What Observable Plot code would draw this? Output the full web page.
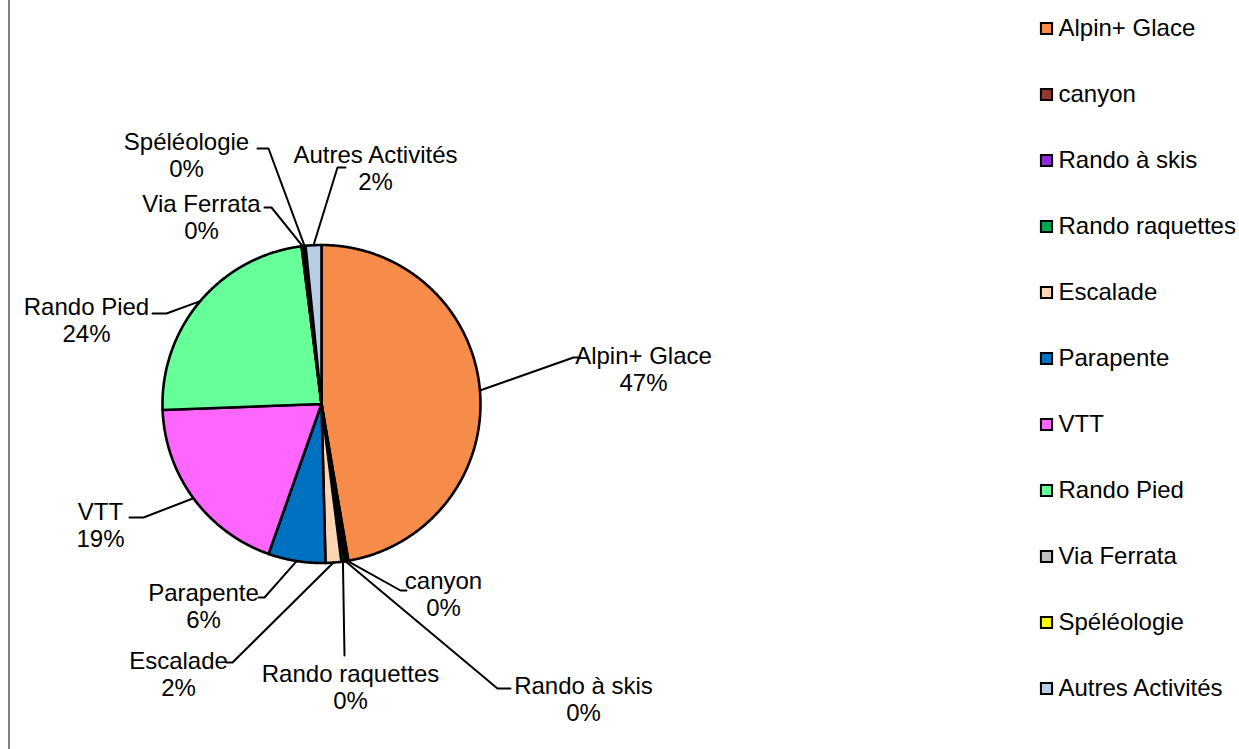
<!DOCTYPE html>
<html>
<head>
<meta charset="utf-8">
<script src="https://cdn.jsdelivr.net/npm/d3@7"></script>
<script src="https://cdn.jsdelivr.net/npm/@observablehq/plot@0.6"></script>
<style>
  html, body { margin: 0; padding: 0; background: #fff; }
  #wrap { position: relative; width: 1239px; height: 749px; overflow: hidden; }
  #legend { position: absolute; left: 1030px; top: 0; }
  #main { position: absolute; left: 0; top: 0; }
  svg { font-family: "Liberation Sans", Arial, sans-serif; }
</style>
</head>
<body>
<div id="wrap"><div id="main"></div><div id="legend"></div></div>
<script>
// ---- data ----
const categories = ["Alpin+ Glace", "canyon", "Rando à skis", "Rando raquettes", "Escalade", "Parapente", "VTT", "Rando Pied", "Via Ferrata", "Spéléologie", "Autres Activités"];
const shares = [47.3, 0.2, 0.2, 0.3, 1.6, 5.8, 19.0, 23.6, 0.2, 0.2, 1.6];
const percentLabels = ["47%", "0%", "0%", "0%", "2%", "6%", "19%", "24%", "0%", "0%", "2%"];
const colors = ["#F68B4A", "#953735", "#8E2BD8", "#00A651", "#FCD5B4", "#0070C0", "#FF66FF", "#66FF99", "#BFBFBF", "#FFFF00", "#B9CDE5"];

// ---- layout (pixels) ----
const W = 1239, H = 749;
const cx = 321, cy = 403.5, R = 159;
const labelCenter = [[643, 368], [443, 593.5], [583, 698.5], [350, 686], [178, 673.5], [203, 605.5], [100, 524], [86, 319.5], [201, 216.5], [186, 154], [375, 167.5]];
const leaderElbow = [[573, 357], [400, 590], [497, 688], [344, 655], [232, 662], [264, 597], [143, 517], [166, 313], [271, 207], [268, 148], [337, 167]];
const leaderEnd = [[580, 357], [406, 590], [510, 688], null, [226, 662], [258, 597], [129, 517], [152, 313], [264, 207], [257, 148], [345, 167]];

const arcs = d3.pie().sort(null).value(d => d)(shares);
const pt = (a, r) => [cx + r * Math.sin(a), cy - r * Math.cos(a)];

// slice polygons
const slicePts = [];
arcs.forEach((a, i) => {
  const name = categories[i];
  slicePts.push({name, x: cx, y: cy});
  const n = Math.max(2, Math.ceil((a.endAngle - a.startAngle) / 0.005));
  for (let k = 0; k <= n; k++) {
    const t = a.startAngle + (a.endAngle - a.startAngle) * k / n;
    const [x, y] = pt(t, R);
    slicePts.push({name, x, y});
  }
  slicePts.push({name, x: cx, y: cy});
});

// leader lines
const leaderPts = [];
arcs.forEach((a, i) => {
  const name = categories[i];
  const mid = (a.startAngle + a.endAngle) / 2;
  const [x0, y0] = pt(mid, R);
  leaderPts.push({name, x: x0, y: y0});
  leaderPts.push({name, x: leaderElbow[i][0], y: leaderElbow[i][1]});
  if (leaderEnd[i]) leaderPts.push({name, x: leaderEnd[i][0], y: leaderEnd[i][1]});
});

const labels = categories.map((c, i) => ({text: c + "\n" + percentLabels[i], x: labelCenter[i][0], y: labelCenter[i][1]}));

const main = Plot.plot({
  width: W, height: H,
  margin: 0,
  x: {domain: [0, W], range: [0, W], axis: null},
  y: {domain: [0, H], range: [0, H], axis: null},
  color: {domain: categories, range: colors},
  style: {fontFamily: '"Liberation Sans", Arial, sans-serif', background: "white"},
  marks: [
    Plot.ruleX([8.5], {y1: 0, y2: H, stroke: "#7f7f7f", strokeWidth: 2}),
    Plot.line(slicePts, {x: "x", y: "y", z: "name", fill: "name", stroke: "black", strokeWidth: 2.6, strokeLinejoin: "round"}),
    Plot.line(leaderPts, {x: "x", y: "y", z: "name", stroke: "black", strokeWidth: 2}),
    Plot.text(labels, {x: "x", y: "y", text: "text", fontSize: 24, lineHeight: 1.13, fill: "black", textAnchor: "middle"})
  ]
});
document.getElementById("main").appendChild(main);

const legend = Plot.plot({
  width: 209, height: H,
  margin: 0,
  x: {domain: [0, 209], range: [0, 209], axis: null},
  y: {type: "point", domain: categories, range: [27, 688], padding: 0, axis: null},
  color: {domain: categories, range: colors},
  style: {fontFamily: '"Liberation Sans", Arial, sans-serif', background: "transparent"},
  marks: [
    Plot.dot(categories, {x: () => 16, y: d => d, symbol: "square", r: 6.3, fill: d => d, stroke: "black", strokeWidth: 2}),
    Plot.text(categories, {x: () => 28, y: d => d, text: d => d, textAnchor: "start", fontSize: 24, fill: "black"})
  ]
});
document.getElementById("legend").appendChild(legend);
</script>
</body>
</html>
